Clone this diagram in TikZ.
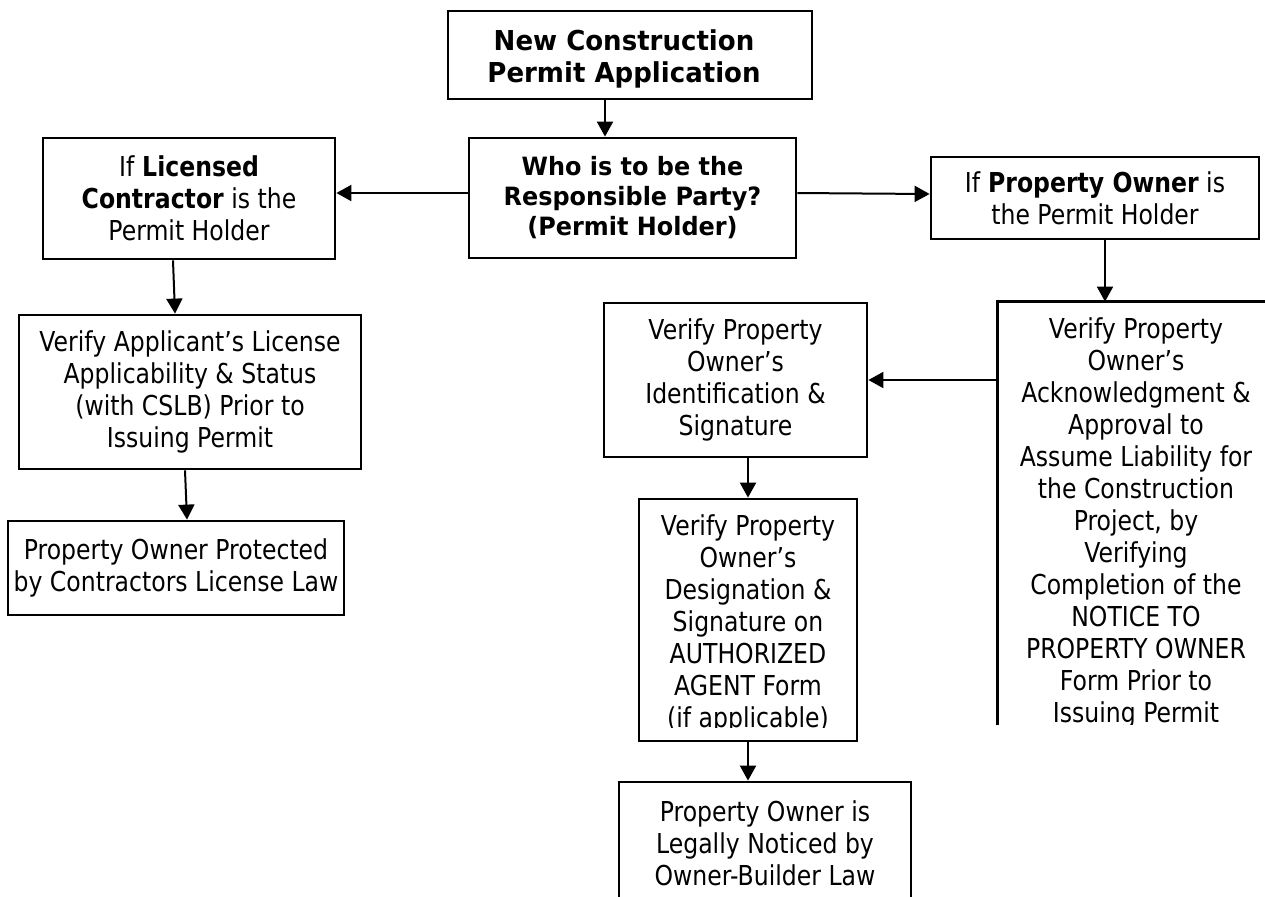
\documentclass[tikz,border=0pt]{standalone}
\usepackage{fontspec}
\setmainfont{DejaVu Sans}[FakeStretch=0.86]
\newfontfamily\headfont{DejaVu Sans}[FakeStretch=0.95]
\usetikzlibrary{arrows.meta}

\begin{document}
\begin{tikzpicture}[x=0.5pt, y=-0.5pt, >={Triangle[length=7.5pt, width=8pt]},
	flow text/.style={align=center, inner sep=0pt, font=\fontsize{13.7}{16}\selectfont},
	flow box/.style={flow text, draw, line width=1.4pt},
	head text/.style={flow text, font=\headfont\bfseries\fontsize{13.7}{16}\selectfont},
	query text/.style={flow text, font=\headfont\bfseries\fontsize{12.6}{15}\selectfont}]
	\useasboundingbox (0,0) rectangle (1265,896);
	\clip (0,0) rectangle (1265,896);
	% top of the chart
	\node[flow box, minimum width=182pt, minimum height=44pt] (new) at (630,55) {};
	\node[head text] (new text) at (624,59) {New Construction\\ Permit Application};
	\node[flow box, query text, minimum width=163.5pt, minimum height=60pt] (who) at (632.5,198) {Who is to be the\\ Responsible Party?\\ (Permit Holder)};
	\node[flow box, minimum width=146pt, minimum height=60.5pt] (lic) at (189,198.5) {If \textbf{Licensed}\\ \textbf{Contractor} is the\\ Permit Holder};
	\node[flow box, minimum width=164pt, minimum height=41pt] (po) at (1095,198) {If \textbf{Property Owner} is\\ the Permit Holder};
	% contractor side
	\node[flow box, minimum width=171pt, minimum height=77pt] (app) at (190,392) {Verify Applicant’s License\\ Applicability \& Status\\ (with CSLB) Prior to\\ Issuing Permit};
	\node[flow box, minimum width=168pt, minimum height=47pt] (pro) at (176,568) {Property Owner Protected\\ by Contractors License Law};
	% owner side
	\node[flow box, minimum width=131.5pt, minimum height=77pt] (ide) at (735.5,380) {Verify Property\\ Owner’s\\ Identification \&\\ Signature};
	\node[flow box, minimum width=109pt, minimum height=121pt] (des) at (748,620) {};
	\node[flow box, minimum width=146pt, minimum height=61pt] (own) at (765,843) {Property Owner is\\ Legally Noticed by\\ Owner-Builder Law};
	\node[flow text, minimum width=138pt, minimum height=211.5pt] (ack) at (1136,513.5) {};
	\draw[line width=1.4pt] (ack.south west) |- (ack.north east);
	\begin{scope}
		\clip (639,499) rectangle (857,727);
		\node[flow text] (des text) at (748,623.5) {Verify Property\\ Owner’s\\ Designation \&\\ Signature on\\ AUTHORIZED\\ AGENT Form\\ (if applicable)};
	\end{scope}
	\begin{scope}
		\clip (998,302) rectangle (1274,724);
		\node[flow text] (ack text) at (1136,523) {Verify Property\\ Owner’s\\ Acknowledgment \&\\ Approval to\\ Assume Liability for\\ the Construction\\ Project, by\\ Verifying\\ Completion of the\\ NOTICE TO\\ PROPERTY OWNER\\ Form Prior to\\ Issuing Permit};
	\end{scope}
	\path[->, line width=1pt]
		([xshift=-12.5pt]new.south) edge ([xshift=-12.5pt]new.south |- who.north)
		([yshift=2.5pt]who.west) edge ([yshift=2.5pt]who.west -| lic.east)
		([yshift=2.5pt]who.east) edge ([yshift=2pt]po.west)
		([xshift=-8pt]lic.south) edge ([xshift=-7.5pt]app.north)
		([xshift=-2.5pt]app.south) edge ([xshift=5.5pt]pro.north)
		([xshift=5pt]po.south) edge ([xshift=5pt]po.south |- ack.north)
		(ack.west |- ide.east) edge (ide.east)
		(des.north |- ide.south) edge (des.north)
		(des.south) edge (des.south |- own.north);
\end{tikzpicture}
\end{document}
